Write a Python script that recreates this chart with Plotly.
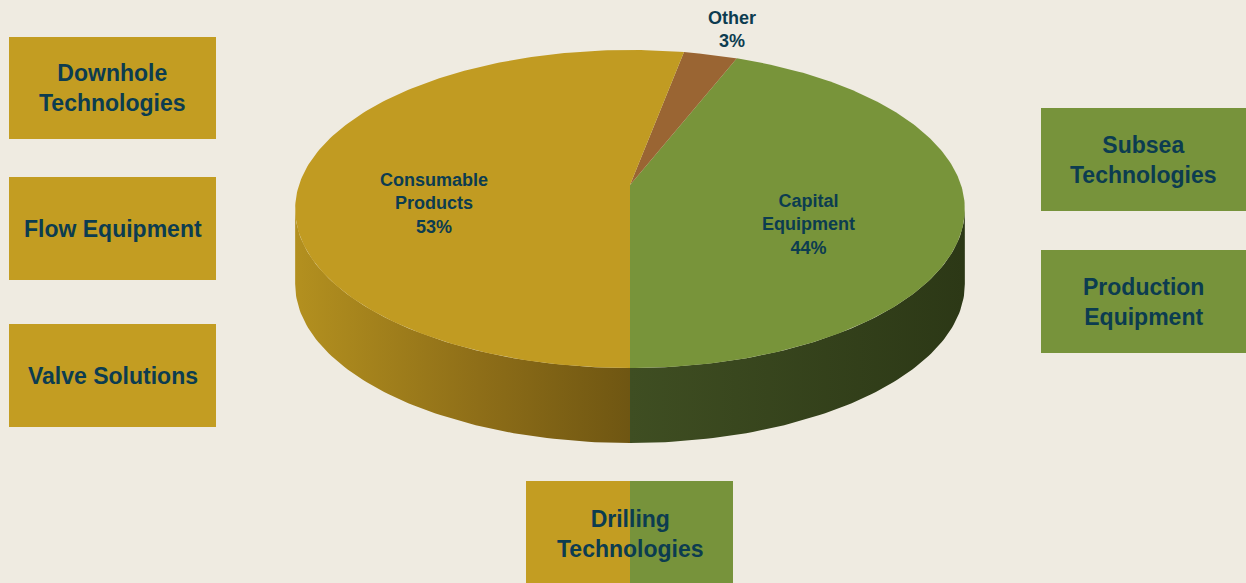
import numpy as np
import plotly.graph_objects as go

# ---- data ----
slice_names = ["Capital<br>Equipment", "Other", "Consumable<br>Products"]
slice_shares = [44, 3, 53]
slice_colors = ["#78943a", "#9a6533", "#c19b22"]

left_boxes = ["Downhole<br>Technologies", "Flow Equipment", "Valve Solutions"]
right_boxes = ["Subsea<br>Technologies", "Production<br>Equipment"]
bottom_box = "Drilling<br>Technologies"

# ---- styling / geometry ----
BG = "#efebe1"
GOLD = "#c39d22"
GREEN = "#77933b"
TXT = "#0c3c50"
FONT = "Liberation Sans, Arial, sans-serif"
W, H = 1246, 583
CX, CY, A, B, K, DEPTH = 630, 185, 331, 155.4, 0.151, 75


def proj(t_deg, r=1.0, dy=0.0):
    t = np.radians(t_deg)
    u, v = r * np.cos(t), r * np.sin(t)
    w = 1 - K * v
    return CX + A * u / w, CY + B * v / w + dy


fig = go.Figure()

# angles of slices (start at front, go to the right / clockwise on screen)
bounds = [90.0]
for s in slice_shares:
    bounds.append(bounds[-1] - 360.0 * s / sum(slice_shares))

sil = np.degrees(np.arcsin(K))  # silhouette angle

# side faces
sides = [
    (np.linspace(90, sil, 80), [[0, "#3f4e22"], [1, "#2c3816"]]),
    (np.linspace(90, 180 - sil, 80), [[0, "#b3901f"], [0.55, "#8e6e18"], [1, "#6f5612"]]),
]
for ts, cs in sides:
    xt, yt = proj(ts)
    xb, yb = proj(ts[::-1], dy=DEPTH)
    xs = np.concatenate([xt, xb])
    ys = np.concatenate([yt, yb])
    fig.add_trace(go.Scatter(
        x=xs, y=ys, mode="lines", fill="toself", line=dict(width=0),
        fillgradient=dict(type="horizontal", colorscale=cs),
        hoverinfo="skip", showlegend=False))

# top faces
for i, (name, share, col) in enumerate(zip(slice_names, slice_shares, slice_colors)):
    ts = np.linspace(bounds[i], bounds[i + 1], 200)
    xa, ya = proj(ts)
    xs = np.concatenate([[CX], xa, [CX]])
    ys = np.concatenate([[CY], ya, [CY]])
    fig.add_trace(go.Scatter(
        x=xs, y=ys, mode="lines", fill="toself", fillcolor=col,
        line=dict(width=0), hoverinfo="skip", showlegend=False))

# slice labels
label_pos = [(808, 224), (732, 29), (434, 203)]
for (name, share), (lx, ly) in zip(zip(slice_names, slice_shares), label_pos):
    fig.add_annotation(x=lx, y=ly, text=f"<b>{name}<br>{share}%</b>", showarrow=False,
                       font=dict(family=FONT, size=18, color=TXT), align="center")

# boxes
shapes = []
def box(x0, x1, y0, y1, col, text):
    shapes.append(dict(type="rect", x0=x0, x1=x1, y0=y0, y1=y1, fillcolor=col,
                       line=dict(width=0), layer="below"))
    if text:
        fig.add_annotation(x=(x0 + x1) / 2, y=(y0 + y1) / 2, text=f"<b>{text}</b>",
                           showarrow=False, align="center",
                           font=dict(family=FONT, size=23, color=TXT))

for txt, (y0, y1) in zip(left_boxes, [(37, 139), (177, 280), (324, 427)]):
    box(9, 216, y0, y1, GOLD, txt)
for txt, (y0, y1) in zip(right_boxes, [(108, 211), (250, 353)]):
    box(1041, 1246, y0, y1, GREEN, txt)
box(526, 630, 481, 590, GOLD, None)
box(630, 733, 481, 590, GREEN, None)
fig.add_annotation(x=630, y=534, text=f"<b>{bottom_box}</b>", showarrow=False,
                   align="center", font=dict(family=FONT, size=23, color=TXT))

fig.update_layout(
    width=W, height=H, margin=dict(l=0, r=0, t=0, b=0),
    paper_bgcolor=BG, plot_bgcolor=BG, shapes=shapes,
    xaxis=dict(range=[0, W], visible=False, fixedrange=True),
    yaxis=dict(range=[H, 0], visible=False, fixedrange=True),
)
fig.write_html("out.html")
